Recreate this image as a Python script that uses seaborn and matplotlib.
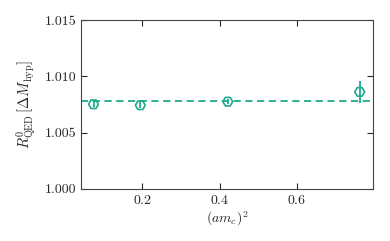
import matplotlib
matplotlib.use("Agg")
import matplotlib.pyplot as plt
import seaborn as sns
import pandas as pd

# values
am_c_sq = [0.074, 0.195, 0.421, 0.762]
ratio = [1.00752, 1.00743, 1.00775, 1.00862]
ratio_err = [0.00025, 0.00025, 0.00020, 0.00100]
fit_value = 1.00782

color = "#1fa98c"

sns.set_style("ticks")
plt.rcParams["font.family"] = "serif"
plt.rcParams["font.serif"] = ["cmr10"]
plt.rcParams["mathtext.fontset"] = "cm"
plt.rcParams["axes.formatter.use_mathtext"] = True

df = pd.DataFrame({"x": am_c_sq, "y": ratio, "err": ratio_err})

fig, ax = plt.subplots(figsize=(3.9, 2.41), dpi=100)
ax.errorbar(df["x"], df["y"], yerr=df["err"], fmt="none", ecolor=color, elinewidth=1.3, capsize=0)
sns.scatterplot(data=df, x="x", y="y", ax=ax, marker="H", s=50,
                facecolor="none", edgecolor=color, linewidth=1.2, zorder=3)
ax.axhline(fit_value, color=color, ls="--", lw=1.3, dashes=(4, 2.5))

ax.set_xlim(0.042, 0.797)
ax.set_ylim(1.000, 1.015)
ax.set_xticks([0.2, 0.4, 0.6])
ax.set_yticks([1.000, 1.005, 1.010, 1.015])
ax.set_yticklabels(["1.000", "1.005", "1.010", "1.015"])
ax.set_xlabel(r"$(am_c)^2$", fontsize=10, labelpad=2)
ax.set_ylabel(r"$R^0_{\rm QED}\,[\Delta M_{\rm hyp}]$", fontsize=10.5, labelpad=5)
ax.tick_params(direction="in", top=True, right=True, labelsize=10, length=4)
for s in ax.spines.values():
    s.set_color("#444444")

fig.subplots_adjust(left=0.208, right=0.957, top=0.917, bottom=0.216)
fig.savefig("out.png", dpi=100)
